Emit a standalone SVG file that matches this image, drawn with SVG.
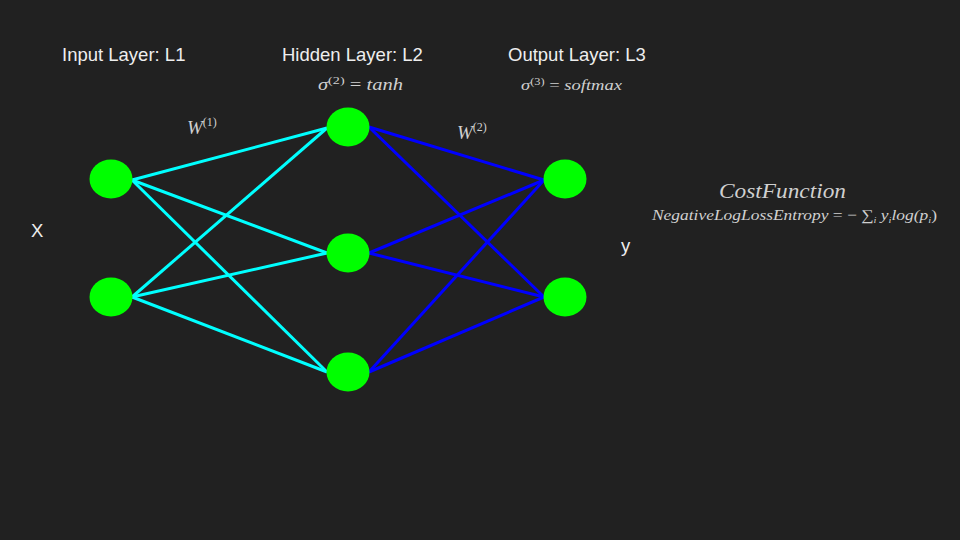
<svg xmlns="http://www.w3.org/2000/svg" width="960" height="540" viewBox="0 0 960 540">
<style>
.lbl{font-family:"Liberation Sans",Arial,sans-serif;font-size:18.5px;fill:#eeeeee}
.math{font-family:"Liberation Serif","Times New Roman",serif;font-style:italic;fill:#d0d0d0}
.node{fill:#00ff00}
.w1{stroke:#00ffff;stroke-width:3;fill:none}
.w2{stroke:#0000ff;stroke-width:3;fill:none}
</style>
<rect width="960" height="540" fill="#212121"/>
<g id="connectors">
<g class="w1">
<line x1="132" y1="180" x2="327" y2="128"/>
<line x1="132" y1="180" x2="327" y2="253"/>
<line x1="132" y1="180" x2="327" y2="372"/>
<line x1="132" y1="297" x2="327" y2="128"/>
<line x1="132" y1="297" x2="327" y2="253"/>
<line x1="132" y1="297" x2="327" y2="372"/>
</g>
<g class="w2">
<line x1="369" y1="127" x2="544" y2="180"/>
<line x1="369" y1="127" x2="544" y2="297"/>
<line x1="369" y1="253" x2="544" y2="180"/>
<line x1="369" y1="253" x2="544" y2="297"/>
<line x1="369" y1="372" x2="544" y2="180"/>
<line x1="369" y1="372" x2="544" y2="297"/>
</g>
</g>
<g id="in1"><ellipse class="node" cx="111" cy="179" rx="21.5" ry="19.5"/></g>
<g id="in2"><ellipse class="node" cx="111" cy="297" rx="21.5" ry="19.5"/></g>
<g id="h1"><ellipse class="node" cx="348" cy="127" rx="21.5" ry="19.5"/></g>
<g id="h2"><ellipse class="node" cx="348" cy="253" rx="21.5" ry="19.5"/></g>
<g id="h3"><ellipse class="node" cx="348" cy="372" rx="21.5" ry="19.5"/></g>
<g id="o1"><ellipse class="node" cx="565" cy="179" rx="21.5" ry="19.5"/></g>
<g id="o2"><ellipse class="node" cx="565" cy="297" rx="21.5" ry="19.5"/></g>
<g id="labels">
<text class="lbl" x="62" y="61">Input Layer: L1</text>
<text class="lbl" x="282" y="61">Hidden Layer: L2</text>
<text class="lbl" x="508" y="61">Output Layer: L3</text>
<text class="lbl" x="31" y="237">X</text>
<text class="lbl" x="621" y="252">y</text>
<text class="math" x="318" y="90" font-size="16" textLength="85" lengthAdjust="spacingAndGlyphs">σ<tspan font-style="normal" font-size="11" dy="-6">(2)</tspan><tspan dy="6"> </tspan><tspan font-style="normal">=</tspan> tanh</text>
<text class="math" x="521" y="90" font-size="15" textLength="101" lengthAdjust="spacingAndGlyphs">σ<tspan font-style="normal" font-size="10" dy="-5">(3)</tspan><tspan dy="5"> </tspan><tspan font-style="normal">=</tspan> softmax</text>
<text class="math" x="187" y="134" font-size="19">W<tspan font-style="normal" font-size="12" dy="-8">(1)</tspan></text>
<text class="math" x="457" y="139" font-size="19">W<tspan font-style="normal" font-size="12" dy="-8">(2)</tspan></text>
<text class="math" x="719" y="198" font-size="21" textLength="127" lengthAdjust="spacingAndGlyphs">CostFunction</text>
<text class="math" x="652" y="220" font-size="15" textLength="285" lengthAdjust="spacingAndGlyphs">NegativeLogLossEntropy <tspan font-style="normal">= −</tspan> <tspan font-style="normal">∑</tspan><tspan font-size="9" dy="3">i</tspan><tspan dy="-3"> y</tspan><tspan font-size="9" dy="3">i</tspan><tspan dy="-3">log(p</tspan><tspan font-size="9" dy="3">i</tspan><tspan dy="-3" font-style="normal">)</tspan></text>
</g>
</svg>
